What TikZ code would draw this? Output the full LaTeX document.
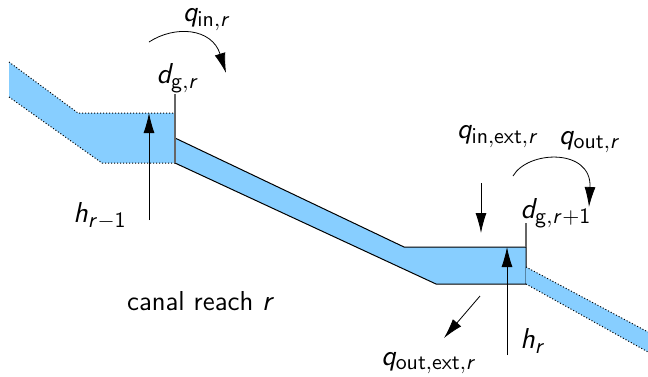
\documentclass[tikz,border=0pt]{standalone}
\usepackage{amsmath}
\usepackage{amssymb}
\usepackage{xcolor}
\usepackage{tikz}
\usetikzlibrary{arrows.meta}
\renewcommand{\familydefault}{\sfdefault}
\DeclareSymbolFont{sfslant}{OT1}{cmss}{m}{sl}
\DeclareSymbolFont{sfup}{OT1}{cmss}{m}{n}
\DeclareMathSymbol{q}{\mathalpha}{sfslant}{`q}
\DeclareMathSymbol{d}{\mathalpha}{sfslant}{`d}
\DeclareMathSymbol{h}{\mathalpha}{sfslant}{`h}
\DeclareMathSymbol{r}{\mathalpha}{sfslant}{`r}
\DeclareMathSymbol{1}{\mathalpha}{sfup}{`1}
\DeclareMathSizes{13.7}{13.7}{10.6}{8}
\definecolor{canalblue}{RGB}{135,206,255}
\tikzset{
    water/.style={fill=canalblue,draw=none},
    reach/.style={draw=black,line width=0.5pt},
    other/.style={draw=black,line width=0.5pt,densely dotted},
    gate/.style={draw=black!60,line width=0.6pt},
    flow/.style={-{Latex[length=10pt,width=5.5pt]},line width=0.4pt},
    label/.style={inner sep=0pt,font=\fontsize{13.7}{16}\selectfont}
}
\begin{document}
\begin{tikzpicture}[x=0.5pt,y=-0.5pt]
        \useasboundingbox (0,0) rectangle (648,376);

        % upstream reach
        \coordinate (a1) at (9,62);
        \coordinate (a2) at (78,113);
        \coordinate (a3) at (175,113);
        \coordinate (a4) at (175,163);
        \coordinate (a5) at (102,163);
        \coordinate (a6) at (9,97);
        \fill[water] (a1) -- (a2) -- (a3) -- (a4) -- (a5) -- (a6) -- cycle;
        \draw[other] (a1) -- (a2) -- (a3);
        \draw[other] (a4) -- (a5) -- (a6);

        % canal reach
        \coordinate (b1) at (175,138);
        \coordinate (b2) at (404,247);
        \coordinate (b3) at (526,247);
        \coordinate (b4) at (526,284);
        \coordinate (b5) at (436,284);
        \fill[water] (b1) -- (b2) -- (b3) -- (b4) -- (b5) -- (a4) -- cycle;
        \draw[reach] (b1) -- (b2) -- (b3) -- (b4) -- (b5) -- (a4);

        % downstream reach
        \coordinate (c1) at (526,267);
        \coordinate (c2) at (648,332);
        \coordinate (c3) at (648,352);
        \fill[water] (c1) -- (c2) -- (c3) -- (b4) -- cycle;
        \draw[other] (c1) -- (c2);
        \draw[other] (b4) -- (c3);

        % gates
        \coordinate (g1) at (175,94);
        \coordinate (g2) at (526,223);
        \draw[gate] (g1) -- (a4);
        \draw[gate] (g2) -- (b3);

        % water levels
        \coordinate (h1) at (149,220);
        \coordinate (h2) at (149,113);
        \coordinate (h3) at (507,355);
        \coordinate (h4) at (507,247);
        \draw[flow] (h1) -- (h2);
        \draw[flow] (h3) -- (h4);

        % flows
        \coordinate (q1) at (149,42);
        \coordinate (q2) at (226,73);
        \coordinate (q3) at (513,176);
        \coordinate (q4) at (589,207);
        \coordinate (q5) at (481,183);
        \coordinate (q6) at (481,233);
        \coordinate (q7) at (480,296);
        \coordinate (q8) at (444,338);
        \draw[flow] (q1) .. controls (175,25) and (212,28) .. (q2);
        \draw[flow] (q3) .. controls (528,150) and (592,148) .. (q4);
        \draw[flow] (q5) -- (q6);
        \draw[flow] (q7) -- (q8);

        \node[label] (qin) at (207,20) {$q_{\mathsf{in},r}$};
        \node[label] (dg) at (178,78) {$d_{\mathsf{g},r}$};
        \node[label] (hup) at (100,216) {$h_{r-1}$};
        \node[label] (qext) at (498,137) {$q_{\mathsf{in,ext},r}$};
        \node[label] (qout) at (590,142) {$q_{\mathsf{out},r}$};
        \node[label] (dgn) at (556,213) {$d_{\mathsf{g},r+1}$};
        \node[label] (name) at (201,301) {canal reach $r$};
        \node[label] (hr) at (533,341) {$h_r$};
        \node[label] (qoext) at (429,363) {$q_{\mathsf{out,ext},r}$};
    \end{tikzpicture}
\end{document}
